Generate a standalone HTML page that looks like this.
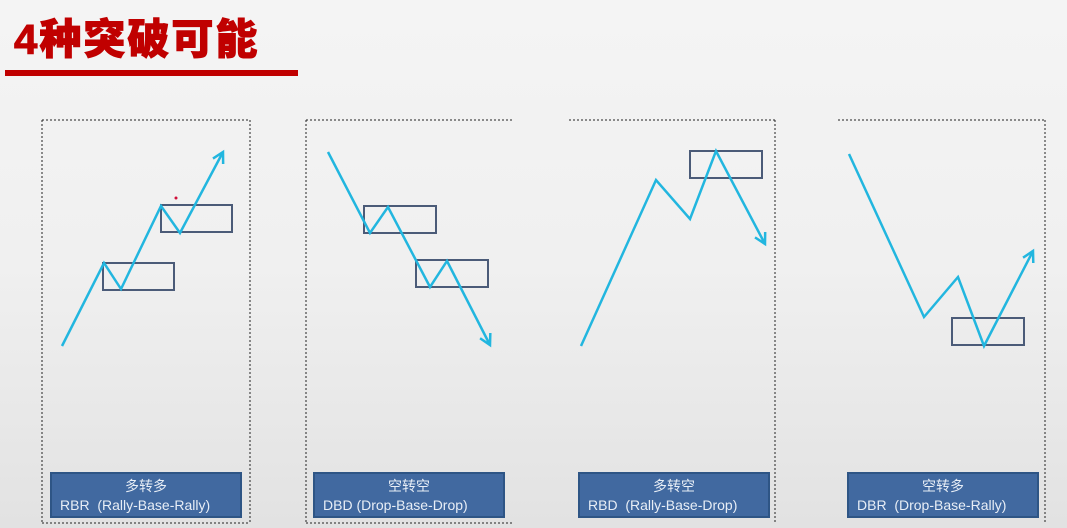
<!DOCTYPE html>
<html><head><meta charset="utf-8"><style>
html,body{margin:0;padding:0}
body{width:1067px;height:528px;overflow:hidden;background:linear-gradient(#f4f4f4,#f0f0f0 50%,#e2e2e2);font-family:"Liberation Sans","Noto Sans CJK SC",sans-serif;position:relative}
.title{position:absolute;left:14px;top:15px;font-size:42px;line-height:50px;letter-spacing:2px;font-weight:900;color:#c00000;font-family:"Liberation Sans","Noto Sans CJK SC",sans-serif;-webkit-text-stroke:1px #c00000}
.rule{position:absolute;left:5px;top:70px;width:293px;height:6px;background:#c00000}
.lbl{position:absolute;top:472px;width:192px;height:46px;background:#4169a0;border:2px solid #2e5585;box-sizing:border-box;color:#e8eef6;font-size:14px;line-height:19px;padding-top:3px}
.lbl .c{text-align:center}
.lbl .e{padding-left:8px;white-space:pre}
svg{position:absolute;left:0;top:0}
</style></head><body>
<div class="title">4种突破可能</div>
<div class="rule"></div>
<svg id="chart" width="1067" height="528"></svg>
<div class="lbl" style="left:50px"><div class="c">多转多</div><div class="e">RBR  (Rally-Base-Rally)</div></div>
<div class="lbl" style="left:313px"><div class="c">空转空</div><div class="e">DBD (Drop-Base-Drop)</div></div>
<div class="lbl" style="left:578px"><div class="c">多转空</div><div class="e">RBD  (Rally-Base-Drop)</div></div>
<div class="lbl" style="left:847px"><div class="c">空转多</div><div class="e">DBR  (Drop-Base-Rally)</div></div>
<script>
const panelNames=["rbr","dbd","rbd","dbr"];
const pathRBR=[[62,346],[104,263],[121,289],[161,206],[180,233],[223,152]];
const pathDBD=[[328,152],[370,233],[388,207],[430,287],[447,261],[490,345]];
const pathRBD=[[581,346],[656,180],[690,219],[716,151],[765,244]];
const pathDBR=[[849,154],[924,317],[958,277],[984,346],[1033,251]];
const paths=[pathRBR,pathDBD,pathRBD,pathDBR];
const boxes=[[[103,263,174,290],[161,205,232,232]],[[364,206,436,233],[416,260,488,287]],[[690,151,762,178]],[[952,318,1024,345]]];
const frames=[[42,120,250,523,"tlrb"],[306,120,513,523,"tlb"],[569,120,775,523,"tr"],[838,120,1045,523,"tr"]];
const NS="http://www.w3.org/2000/svg";
const svg=document.getElementById('chart');
function mk(t,a){const e=document.createElementNS(NS,t);for(const k in a)e.setAttribute(k,a[k]);svg.appendChild(e);return e;}
frames.forEach((f,i)=>{
  const [x1,y1,x2,y2,s]=f;
  const segs={t:[x1,y1,x2,y1],b:[x1,y2,x2,y2],l:[x1,y1,x1,y2],r:[x2,y1,x2,y2]};
  for(const c of s){const g=segs[c];
    const e=mk('line',{x1:g[0],y1:g[1],x2:g[2],y2:g[3],stroke:'#222','stroke-width':1,'stroke-dasharray':'2,2'});
    
    }
});
boxes.forEach((bs,i)=>bs.forEach(b=>{
  const e=mk('rect',{x:b[0],y:b[1],width:b[2]-b[0],height:b[3]-b[1],fill:'none',stroke:'#4b5b78','stroke-width':2});
  
  
}));
paths.forEach((p,i)=>{
  const e=mk('polyline',{points:p.map(q=>q.join(',')).join(' '),fill:'none',stroke:'#22b6df','stroke-width':2.5,'stroke-linejoin':'miter'});
  
  
  const a=p[p.length-2],b=p[p.length-1];
  const ang=Math.atan2(b[1]-a[1],b[0]-a[0]),L=12,w=0.5;
  const h=mk('polyline',{points:[[b[0]-L*Math.cos(ang-w),b[1]-L*Math.sin(ang-w)],b,[b[0]-L*Math.cos(ang+w),b[1]-L*Math.sin(ang+w)]].map(q=>q.join(',')).join(' '),fill:'none',stroke:'#22b6df','stroke-width':2.5});
  
  
});
const dot=mk('circle',{cx:176,cy:198,r:1.5,fill:'#d0103a'});


</script>
</body></html>
